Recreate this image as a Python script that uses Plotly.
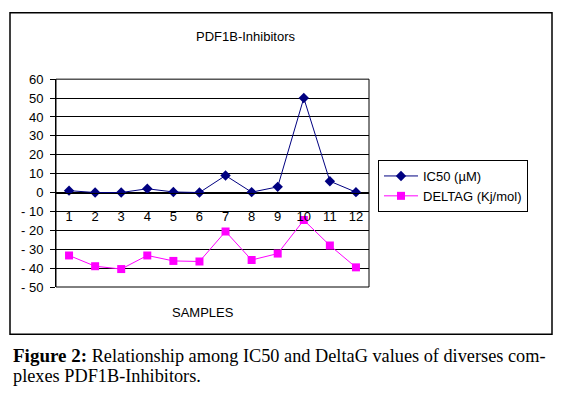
import plotly.graph_objects as go

samples = [1, 2, 3, 4, 5, 6, 7, 8, 9, 10, 11, 12]
ic50 = [1, 0, 0, 2, 0.3, 0, 9, 0.2, 3, 50, 6, 0.2]
deltag = [-33.3, -39, -40.5, -33.3, -36.2, -36.5, -20.6, -35.7, -32.3, -14.6, -28, -39.6]
ytick_vals = [60, 50, 40, 30, 20, 10, 0, -10, -20, -30, -40, -50]
ytick_text = ["60", "50", "40", "30", "20", "10", "0", "- 10", "- 20", "- 30", "- 40", "- 50"]

W, H = 562, 397
px0, px1 = 56, 369
py_top, py_bot = 75, 291
dom_x = [px0 / W, px1 / W]
dom_y = [1 - py_bot / H, 1 - py_top / H]
ymin, ymax = -50, 60
zero_pos = dom_y[0] + (0 - ymin) / (ymax - ymin) * (dom_y[1] - dom_y[0])

SANS = "Liberation Sans, Arial, sans-serif"
SERIF = "Liberation Serif, Times New Roman, serif"

fig = go.Figure()
fig.add_trace(go.Scatter(
    x=samples, y=ic50, mode="lines+markers", name="IC50 (µM)",
    line=dict(color="#000080", width=1),
    marker=dict(symbol="diamond", size=8, color="#000080"),
))
fig.add_trace(go.Scatter(
    x=samples, y=deltag, mode="lines+markers", name="DELTAG (Kj/mol)",
    line=dict(color="#FF00FF", width=1),
    marker=dict(symbol="square", size=8, color="#FF00FF"),
))

fig.update_layout(
    width=W, height=H, autosize=False,
    margin=dict(l=0, r=0, t=0, b=0),
    paper_bgcolor="white", plot_bgcolor="white",
    showlegend=True,
    font=dict(family=SANS, size=13, color="black"),
    xaxis=dict(
        domain=dom_x, range=[0.5, 12.5], anchor="free", position=zero_pos,
        tickmode="array", tickvals=samples, ticktext=[str(s) for s in samples],
        showgrid=False, zeroline=False, showline=True, linecolor="black", linewidth=1,
        ticks="", ticklabelstandoff=12, tickfont=dict(family=SANS, size=13, color="black"),
    ),
    yaxis=dict(
        domain=dom_y, range=[ymin, ymax],
        tickmode="array", tickvals=ytick_vals, ticktext=ytick_text,
        showgrid=True, gridcolor="black", gridwidth=1,
        zeroline=False, showline=True, linecolor="black", linewidth=1,
        ticks="outside", ticklen=5, tickcolor="black", tickwidth=1,
        ticklabelstandoff=4, tickfont=dict(family=SANS, size=13, color="black"),
    ),
    legend=dict(
        x=378 / W, y=1 - 159 / H, xanchor="left", yanchor="top",
        bordercolor="black", borderwidth=1, bgcolor="white",
        font=dict(family=SANS, size=13, color="black"),
        itemwidth=34,
    ),
)

# plot area border
fig.add_shape(type="rect", xref="x domain", yref="y domain", x0=0, x1=1, y0=0, y1=1,
              line=dict(color="black", width=1))
# outer chart border
fig.add_shape(type="rect", xref="paper", yref="paper",
              x0=10 / W, x1=552 / W, y0=1 - 340 / H, y1=1 - 6 / H,
              line=dict(color="black", width=1.5))

fig.add_annotation(text="PDF1B-Inhibitors", xref="paper", yref="paper",
                   x=245 / W, y=1 - 31 / H, xanchor="center", yanchor="middle",
                   showarrow=False, font=dict(family=SANS, size=13, color="black"))
fig.add_annotation(text="SAMPLES", xref="paper", yref="paper",
                   x=203 / W, y=1 - 317.5 / H, xanchor="center", yanchor="middle",
                   showarrow=False, font=dict(family=SANS, size=13, color="black"))

fig.add_annotation(
    text="<b><span style='font-size:19px'>Figure 2:</span></b> Relationship among IC50 and DeltaG values of diverses com-",
    xref="paper", yref="paper", x=11 / W, y=1 - 362 / H, xanchor="left", yanchor="middle",
    showarrow=False, font=dict(family=SERIF, size=18.3, color="black"))
fig.add_annotation(
    text="plexes PDF1B-Inhibitors.",
    xref="paper", yref="paper", x=11 / W, y=1 - 383 / H, xanchor="left", yanchor="middle",
    showarrow=False, font=dict(family=SERIF, size=18.3, color="black"))

fig.write_html("out.html", post_script="document.body.style.margin='0px';",
               config={"displayModeBar": False})
